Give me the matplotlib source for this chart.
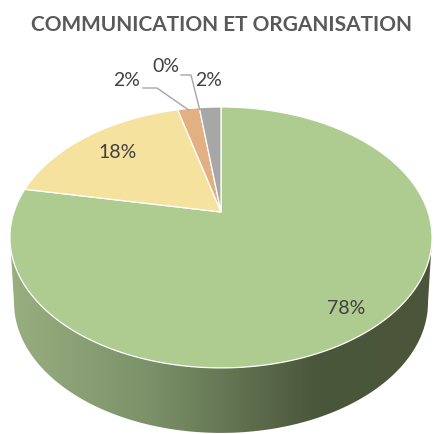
#!/usr/bin/env python3
"""Perspective 3D pie: communication et organisation."""
import numpy as np
import matplotlib.pyplot as plt
from matplotlib.patches import Polygon
from matplotlib.colors import LinearSegmentedColormap

labels = ["78%", "18%", "2%", "0%", "2%"]
values = [78, 18, 2, 0, 2]
colors = ["#AECB90", "#F5E29F", "#E3B083", "#8FAADC", "#A7A7A7"]
title = "COMMUNICATION ET ORGANISATION"

plt.rcParams["font.family"] = ["Lato", "DejaVu Sans"]

# pie geometry in image pixels
CX, CY = 221, 212
HALF_W, B, K = 207, 125.5, 0.195
DEPTH = 65
SIDE_W = 203


def project(theta, r=1.0, half_w=HALF_W, drop=0):
    """Map a pie angle onto the tilted disc, the pie centre stays off-centre."""
    px = r * np.cos(theta)
    py = r * np.sin(theta)
    w = 1 + K * py
    return CX + half_w * px / w, CY - B * py / w + drop


fig = plt.figure(figsize=(4.36, 4.34), dpi=100)
ax = fig.add_axes([0, 0, 1, 1])
ax.set_xlim(0, 436)
ax.set_ylim(434, 0)
ax.axis("off")

# side wall, front half only
t = np.linspace(np.pi + np.arcsin(K), 2 * np.pi - np.arcsin(K), 300)
top_x, top_y = project(t)
bot_x, bot_y = project(t, half_w=SIDE_W, drop=DEPTH)
wall = np.r_[np.c_[top_x, top_y], np.c_[bot_x, bot_y][::-1]]
side_cmap = LinearSegmentedColormap.from_list(
    "side", [(0, "#9AB182"), (0.35, "#7A9068"), (0.72, "#4B573B"), (1, "#4A553A")])
img = ax.imshow(np.linspace(0, 1, 436).reshape(1, -1), cmap=side_cmap,
                extent=(0, 436, 434, 200), aspect="auto", zorder=1)
img.set_clip_path(Polygon(wall, transform=ax.transData))
ax.set_xlim(0, 436)
ax.set_ylim(434, 0)

# top face, clockwise from 12 o'clock
start = np.pi / 2
mids = []
total = sum(values)
for v, c in zip(values, colors):
    sweep = 2 * np.pi * v / total
    mids.append(start - sweep / 2)
    if v > 0:
        a = np.linspace(start, start - sweep, 200)
        x, y = project(a)
        ax.add_patch(Polygon(np.r_[[[CX, CY]], np.c_[x, y]], closed=True, facecolor=c,
                             edgecolor="white", linewidth=0.9, zorder=2))
    start -= sweep

text_kw = dict(ha="center", va="center", color="#404040", fontsize=14, zorder=4)
ax.text(346, 308, labels[0], **text_kw)
ax.text(118, 152, labels[1], **text_kw)
ax.text(127, 80, labels[2], **text_kw)
ax.text(166, 67, labels[3], **text_kw)
ax.text(209, 81, labels[4], **text_kw)

# leader lines for the two small labels
leader = dict(color="#A6A6A6", linewidth=1.0, zorder=3)
x2, y2 = project(mids[2], r=0.98)
ax.plot([143, 157, x2], [88, 88, y2], **leader)
x3, y3 = project(mids[3], r=0.98)
ax.plot([181, 191, x3], [75, 75, y3], **leader)

ax.text(221, 25, title, ha="center", va="center", fontsize=15, fontweight="bold",
        color="#595959", zorder=4)

fig.savefig("out.png", dpi=100)
